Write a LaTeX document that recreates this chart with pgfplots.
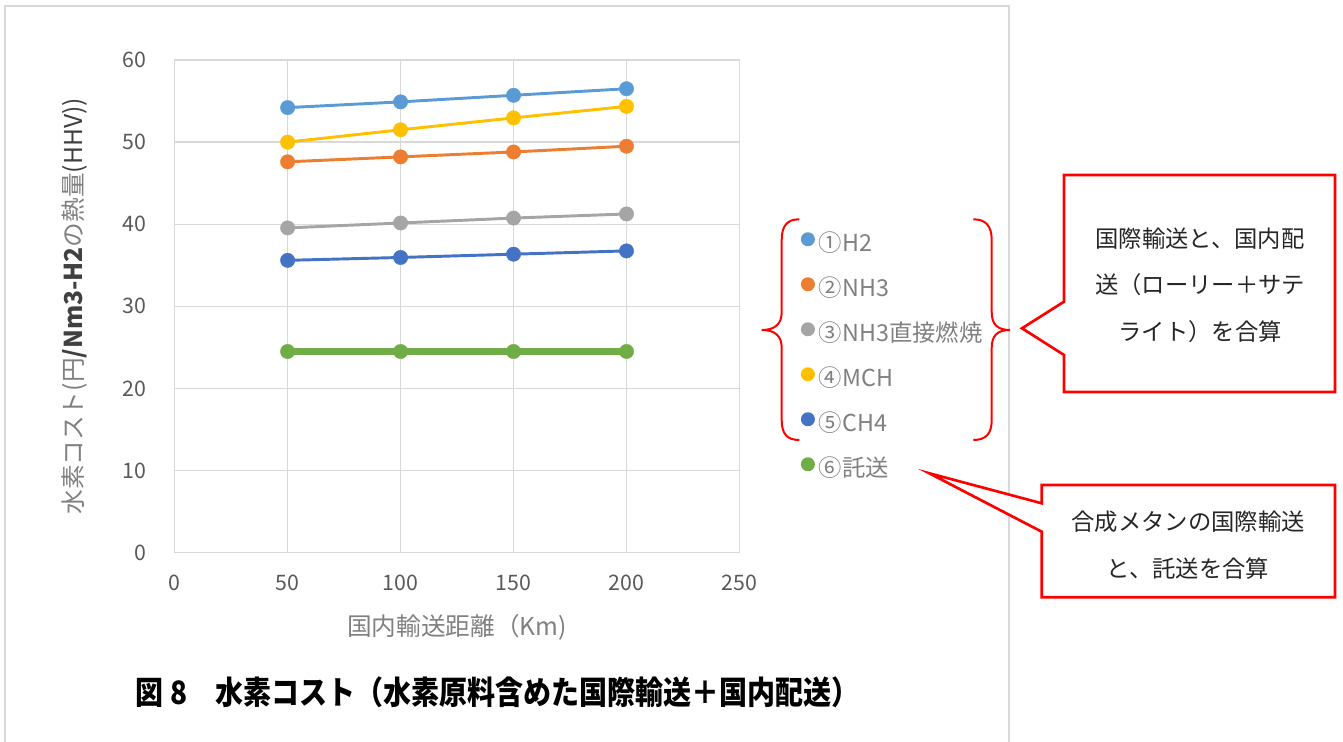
\documentclass[border=0pt]{standalone}
\usepackage{pgfplots}
\pgfplotsset{compat=1.18}
\usepackage{fontspec}
\usetikzlibrary{calc}
\setmainfont{Noto Sans CJK JP}

\definecolor{sH2}{HTML}{5B9BD5}
\definecolor{sNH3}{HTML}{ED7D31}
\definecolor{sNH3d}{HTML}{A5A5A5}
\definecolor{sMCH}{HTML}{FFC000}
\definecolor{sCH4}{HTML}{4472C4}
\definecolor{sTak}{HTML}{70AD47}
\definecolor{gridc}{HTML}{D9D9D9}
\definecolor{framec}{HTML}{D9D9D9}
\definecolor{tickc}{HTML}{595959}
\definecolor{labc}{HTML}{808080}
\definecolor{labdark}{HTML}{404040}
\definecolor{calloutred}{HTML}{FF0000}
\definecolor{calltext}{HTML}{262626}

% cost (yen/Nm3-H2) against domestic transport distance (km)
\pgfplotstableread{
d    h2    nh3   nh3d  mch   ch4   tak
50   54.2  47.6  39.55 50.0  35.6  24.5
100  54.9  48.2  40.15 51.5  35.95 24.5
150  55.7  48.8  40.75 52.95 36.35 24.5
200  56.5  49.5  41.25 54.35 36.75 24.5
}\costs

\begin{document}
\begin{tikzpicture}
% page frame in pixel units (origin at top-left, y downward)
\begin{scope}[shift={(0pt,556.5pt)}, x=0.75pt, y=-0.75pt]
  \path[use as bounding box] (0,0) rectangle (1343,742);
  \draw[framec, line width=1.3pt] (5,745) -- (5,6) -- (1009,6) -- (1009,745);
\end{scope}

\begin{axis}[
  at={(131pt,142pt)}, anchor=south west,
  scale only axis, width=423.6pt, height=369.5pt,
  xmin=0, xmax=250, ymin=0, ymax=60,
  xtick={0,50,...,250}, ytick={0,10,...,60},
  grid=major, major grid style={draw=gridc, line width=1pt},
  axis line style={draw=gridc, line width=1pt},
  major tick length=0pt,
  /pgf/number format/assume math mode=true,
  tick label style={font=\fontsize{16}{16}\selectfont, text=tickc},
  xticklabel style={anchor=center, inner sep=0pt, yshift=-23pt},
  yticklabel style={anchor=east, inner sep=0pt, xshift=-21pt},
  xlabel={国内輸送距離（Km)},
  xlabel style={at={(axis description cs:0.5,0)}, anchor=center, yshift=-56pt,
    font=\fontsize{18.5}{18.5}\selectfont, text=labc},
  ylabel={水素コスト(円{\color{labdark}\bfseries/Nm3-H2}の熱量{\color{labdark}(HHV))}},
  ylabel style={at={($(axis description cs:0,0.5)+(-74.8pt,0pt)$)}, anchor=center,
    font=\fontsize{18.5}{18.5}\selectfont, text=labc},
  legend cell align=left,
  legend image code/.code={\path[fill, draw=none] (5.25pt,4pt) circle (5.25pt);},
  legend style={at={(axis description cs:1.1083,0.6509)}, anchor=north west,
    draw=none, fill=none, inner sep=0pt, row sep=15.5pt, column sep=3pt,
    font=\fontsize{17.5}{17.5}\selectfont, text=labc,
    nodes={inner sep=0pt, text height=14pt, text depth=4pt}},
  every axis plot/.append style={mark=*, mark size=5.4pt, line width=2.2pt,
    mark options={line width=0.3pt}},
]
\addplot[color=sH2]   table[x=d, y=h2]   {\costs};
\addplot[color=sNH3]  table[x=d, y=nh3]  {\costs};
\addplot[color=sNH3d] table[x=d, y=nh3d] {\costs};
\addplot[color=sMCH]  table[x=d, y=mch]  {\costs};
\addplot[color=sCH4]  table[x=d, y=ch4]  {\costs};
\addplot[color=sTak, line width=5.5pt] table[x=d, y=tak] {\costs};
\legend{①H2, ②NH3, ③NH3直接燃焼, ④MCH, ⑤CH4, ⑥託送}
\end{axis}

\begin{scope}[shift={(0pt,556.5pt)}, x=0.75pt, y=-0.75pt]
  % braces grouping the first five series
  \draw[calloutred, line width=1.5pt]
    (799.3,219.3) .. controls (787,219.3) and (781.7,226) .. (781.7,240)
    -- (781.7,312) .. controls (781.7,324) and (775,330) .. (761.7,330)
    .. controls (775,330) and (781.7,336) .. (781.7,348)
    -- (781.7,420) .. controls (781.7,434) and (787,440) .. (799.3,440);
  \draw[calloutred, line width=1.5pt]
    (973.3,219.3) .. controls (985.7,219.3) and (991.7,226) .. (991.7,240)
    -- (991.7,312) .. controls (991.7,324) and (997,330) .. (1010,330)
    .. controls (997,330) and (991.7,336) .. (991.7,348)
    -- (991.7,420) .. controls (991.7,434) and (985.7,440) .. (973.3,440);
  % callouts
  \filldraw[draw=calloutred, fill=white, line width=2pt, line join=miter]
    (1064,175) -- (1335,175) -- (1335,392) -- (1064,392) -- (1064,355)
    -- (1022,328.3) -- (1064,301.7) -- cycle;
  \node[align=center, text=calltext, font=\fontsize{17.5}{35}\selectfont]
    at (1200,285) {国際輸送と、国内配\\送（ローリー＋サテ\\ライト）を合算};
  \filldraw[draw=calloutred, fill=white, line width=2pt, line join=miter]
    (1041.7,485) -- (1335,485) -- (1335,597.3) -- (1041.7,597.3) -- (1041.7,531.7)
    -- (929.3,473.3) -- (1041.7,503.3) -- cycle;
  \node[align=center, text=calltext, font=\fontsize{17.5}{35}\selectfont]
    at (1188,545) {合成メタンの国際輸送\\と、託送を合算};
  % caption
  \node[text=black, font=\fontsize{21}{21}\selectfont\bfseries, yscale=1.15]
    at (497.5,692) {図 8　水素コスト（水素原料含めた国際輸送＋国内配送）};
\end{scope}
\end{tikzpicture}
\end{document}
